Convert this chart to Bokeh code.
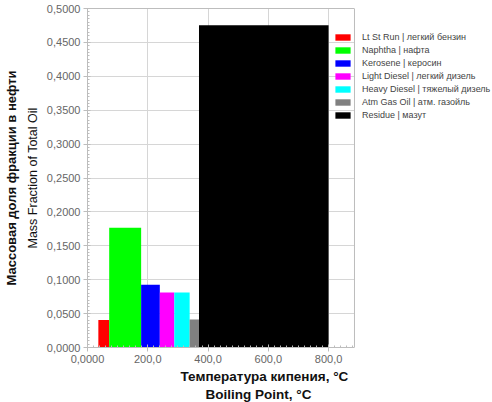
from bokeh.plotting import figure
from bokeh.models import (ColumnDataSource, Range1d, FixedTicker, SingleIntervalTicker,
                          CustomJSTickFormatter, Title, LinearAxis, Span, BoxAnnotation)
from bokeh.embed import file_html
from bokeh.resources import INLINE

# ---- data ----
labels = ["Lt St Run | легкий бензин", "Naphtha | нафта", "Kerosene | керосин",
          "Light Diesel | легкий дизель", "Heavy Diesel | тяжелый дизель",
          "Atm Gas Oil | атм. газойль", "Residue | мазут"]
cut_start = [36, 72, 178, 240, 288, 339, 370]
cut_end = [72, 178, 240, 288, 339, 370, 800]
mass_fraction = [0.0404, 0.1768, 0.0924, 0.0810, 0.0810, 0.0413, 0.4754]
colors = ["#ff0000", "#00ff00", "#0000ff", "#ff00ff", "#00ffff", "#808080", "#000000"]

x_ticks = [0, 200, 400, 600, 800]
x_tick_labels = ["0,0000", "200,0", "400,0", "600,0", "800,0"]
x_axis_end = 886      # end of the plotted x axis
y_axis_end = 0.5

src = ColumnDataSource(dict(left=cut_start, right=cut_end, top=mass_fraction,
                            bottom=[0] * len(mass_fraction), color=colors, label=labels))

FONT = "Liberation Sans"
GRAY_AX = "#bdbdbd"
GRID = "#d6d6d6"
TXT = "#666666"

# frame spans the full width; the visible plot box ends at x_axis_end,
# the rest of the frame holds the legend
p = figure(width=492, height=402, output_backend="svg", toolbar_location=None,
           x_range=Range1d(0, 1344), y_range=Range1d(0, y_axis_end),
           min_border_top=8, min_border_right=0, min_border_left=87, min_border_bottom=55)
p.outline_line_color = None

p.quad(left="left", right="right", top="top", bottom="bottom", source=src,
       fill_color="color", line_color=None, legend_field="label")

# axes
p.xaxis.ticker = FixedTicker(ticks=x_ticks, minor_ticks=list(range(0, 900, 20)))
p.xaxis.major_label_overrides = {t: s for t, s in zip(x_ticks, x_tick_labels)}
p.xaxis.bounds = (0, x_axis_end)
p.yaxis.ticker = SingleIntervalTicker(interval=0.05, num_minor_ticks=10)
p.yaxis.formatter = CustomJSTickFormatter(code="return tick.toFixed(4).replace('.', ',');")

for ax in (p.xaxis[0], p.yaxis[0]):
    ax.axis_line_color = GRAY_AX
    ax.major_tick_line_color = GRAY_AX
    ax.minor_tick_line_color = GRAY_AX
    ax.major_tick_in = 3
    ax.major_tick_out = 4
    ax.minor_tick_in = 2
    ax.minor_tick_out = 0
    ax.major_label_text_font = FONT
    ax.major_label_text_font_size = "11px"
    ax.major_label_text_color = TXT
    ax.major_label_standoff = 3

# top border of the plot box
top_ax = LinearAxis(bounds=(0, x_axis_end), ticker=FixedTicker(ticks=[]),
                    major_label_text_font_size="0px", major_tick_line_color=None,
                    minor_tick_line_color=None, axis_line_color=GRAY_AX)
p.add_layout(top_ax, "above")

p.xgrid.grid_line_color = GRID
p.ygrid.grid_line_color = GRID
# hide grid lines outside the plot box
p.add_layout(BoxAnnotation(left=x_axis_end, fill_color="white", fill_alpha=1.0,
                           line_color=None, level="underlay"))
# right border of the plot box
p.add_layout(Span(location=x_axis_end, dimension="height", line_color=GRAY_AX, line_width=1))

# axis titles
tx1 = Title(text="Температура кипения, °C", align="left", offset=93,
            text_font=FONT, text_font_size="13.5px", text_font_style="bold",
            text_color="#111111", standoff=2, text_line_height=1.0)
tx2 = Title(text="Boiling Point, °C", align="left", offset=118,
            text_font=FONT, text_font_size="13.5px", text_font_style="bold",
            text_color="#111111", standoff=0, text_line_height=1.0)
p.add_layout(tx1, "below")
p.add_layout(tx2, "below")

y1 = Title(text="Mass Fraction of Total Oil", align="center", offset=12,
           text_font=FONT, text_font_size="12.5px", text_font_style="normal",
           text_color="#111111", standoff=8)
y2 = Title(text="Массовая доля фракции в нефти", align="center", offset=12,
           text_font=FONT, text_font_size="13px", text_font_style="bold",
           text_color="#111111", standoff=2)
p.add_layout(y1, "left")
p.add_layout(y2, "left")

# legend
lg = p.legend[0]
lg.location = (246, 227)
lg.padding = 0
lg.margin = 0
lg.spacing = 3
lg.glyph_width = 19
lg.glyph_height = 8
lg.label_height = 9
lg.label_standoff = 10
lg.label_text_font = FONT
lg.label_text_font_size = "9px"
lg.label_text_color = "#444444"
lg.border_line_color = None
lg.background_fill_alpha = 0

open("out.html", "w").write(file_html(p, INLINE))
